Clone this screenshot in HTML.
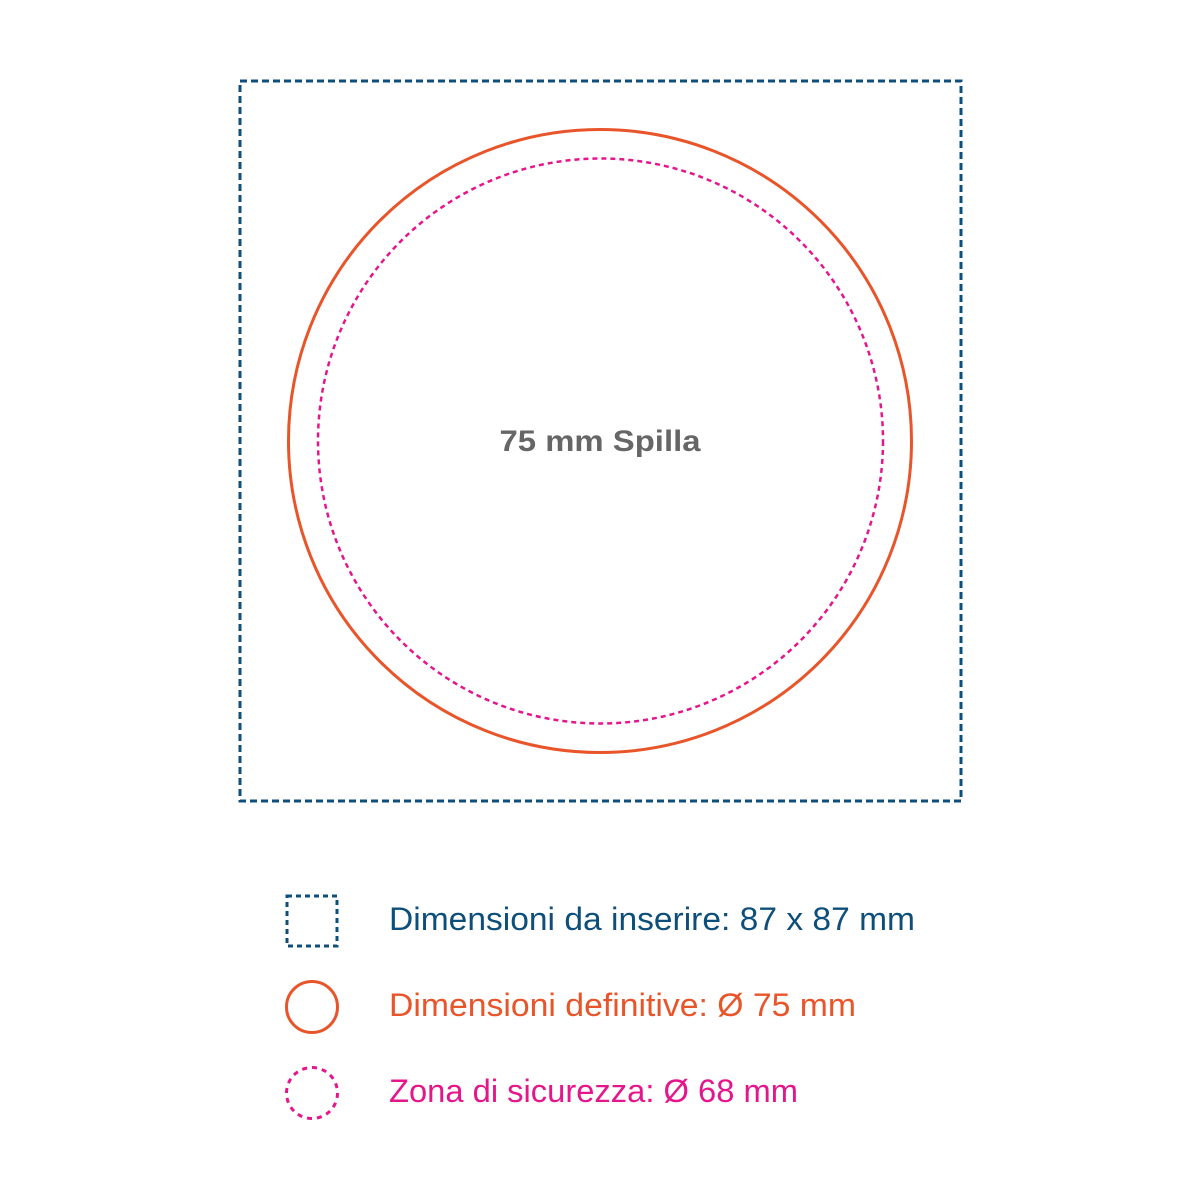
<!DOCTYPE html>
<html><head><meta charset="utf-8"><style>html,body{margin:0;padding:0;background:#fff}svg{display:block}</style></head>
<body>
<svg width="1200" height="1200" viewBox="0 0 1200 1200" xmlns="http://www.w3.org/2000/svg">
<rect x="240" y="81" width="721" height="720" fill="none" stroke="#0d4f7a" stroke-width="3" stroke-dasharray="7 4"/>
<circle cx="600" cy="441" r="311.5" fill="none" stroke="#e9552a" stroke-width="3"/>
<circle cx="600.5" cy="441" r="282.5" fill="none" stroke="#e5168c" stroke-width="2.5" stroke-dasharray="5 4"/>
<text x="600" y="451" text-anchor="middle" font-family="Liberation Sans, sans-serif" font-weight="bold" font-size="30" fill="#666" textLength="201" lengthAdjust="spacingAndGlyphs">75 mm Spilla</text>
<rect x="287" y="896" width="50" height="50" fill="none" stroke="#0d4f7a" stroke-width="3" stroke-dasharray="5 4"/>
<circle cx="312" cy="1007" r="25.5" fill="none" stroke="#e9552a" stroke-width="3"/>
<circle cx="312" cy="1093" r="25.5" fill="none" stroke="#e5168c" stroke-width="3" stroke-dasharray="5 5"/>
<g font-family="Liberation Sans, sans-serif" font-size="32">
<text x="389" y="930" fill="#0d4f7a" textLength="526" lengthAdjust="spacingAndGlyphs">Dimensioni da inserire: 87 x 87 mm</text>
<text x="389" y="1016" fill="#e9552a" textLength="467" lengthAdjust="spacingAndGlyphs">Dimensioni definitive: Ø 75 mm</text>
<text x="389" y="1102" fill="#e5168c" textLength="409" lengthAdjust="spacingAndGlyphs">Zona di sicurezza: Ø 68 mm</text>
</g>
</svg>
</body></html>
